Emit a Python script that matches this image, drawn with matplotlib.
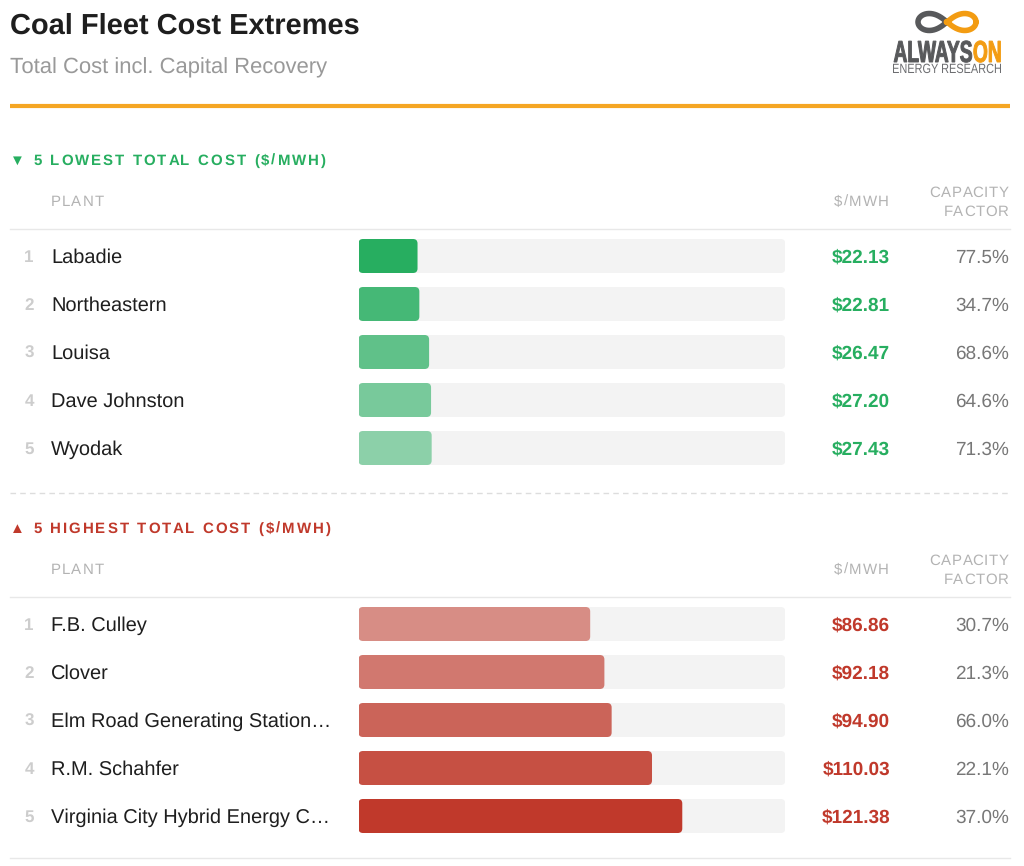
import matplotlib
matplotlib.use("Agg")
import matplotlib.pyplot as plt
import numpy as np
from matplotlib.patches import FancyBboxPatch, PathPatch
from matplotlib.textpath import TextPath
from matplotlib.font_manager import FontProperties
from matplotlib.transforms import Affine2D

# ---------------- data ----------------
low_plants = ["Labadie", "Northeastern", "Louisa", "Dave Johnston", "Wyodak"]
low_cost = [22.13, 22.81, 26.47, 27.20, 27.43]
low_cf = [77.5, 34.7, 68.6, 64.6, 71.3]

high_plants = ["F.B. Culley", "Clover", "Elm Road Generating Station\u2026",
               "R.M. Schahfer", "Virginia City Hybrid Energy C\u2026"]
high_cost = [86.86, 92.18, 94.90, 110.03, 121.38]
high_cf = [30.7, 21.3, 66.0, 22.1, 37.0]

scale_max = 160

title = "Coal Fleet Cost Extremes"
subtitle = "Total Cost incl. Capital Recovery"
low_header = "\u25BC 5 LOWEST TOTAL COST ($/MWH)"
high_header = "\u25B2 5 HIGHEST TOTAL COST ($/MWH)"

# ---------------- style ----------------
W, H = 1024, 866
FAM = ["Liberation Sans", "DejaVu Sans"]
plt.rcParams["font.family"] = FAM
plt.rcParams["text.hinting"] = "no_hinting"
plt.rcParams["text.hinting_factor"] = 1
GREEN = "#27ae60"
RED = "#c0392b"
ORANGE = "#f5a623"
TRACK = "#f3f3f3"
low_alpha = [1.0, 0.85, 0.72, 0.6, 0.5]
high_alpha = [0.55, 0.66, 0.77, 0.88, 1.0]

fig = plt.figure(figsize=(W / 100, H / 100), dpi=100)
ax = fig.add_axes([0, 0, 1, 1])
ax.set_xlim(0, W)
ax.set_ylim(H, 0)
ax.axis("off")

renderer = fig.canvas.get_renderer()


def text_width(s, **kw):
    t = ax.text(0, 0, s + "|", **kw)
    w1 = t.get_window_extent(renderer).width
    t.remove()
    t = ax.text(0, 0, "|", **kw)
    w2 = t.get_window_extent(renderer).width
    t.remove()
    return w1 - w2


def spaced(x, y, s, sp, ha="left", **kw):
    total = text_width(s, **kw) + sp * (len(s) - 1)
    x0 = x - total if ha == "right" else x
    for i, ch in enumerate(s):
        if ch == " ":
            continue
        off = text_width(s[:i], **kw) + sp * i if i > 0 else 0
        ax.text(x0 + off, y, ch, ha="left", va="baseline", **kw)


# ---------------- header ----------------
ax.text(10, 34, title, fontsize=21.1, fontweight="bold", color="#1e1e1e",
        ha="left", va="baseline")
ax.text(10, 73, subtitle, fontsize=16.05, color="#999999",
        ha="left", va="baseline")
ax.plot([10, 1010], [106, 106], color=ORANGE, lw=3.0, solid_capstyle="butt")


# logo
def logo_text(s, x0, x1, ybase, cap, color, weight, xoff=0.0, ref=None, ew=0.0):
    fp = FontProperties(family="Liberation Sans", weight=weight)
    ref = ref or s
    rp = TextPath((0, 0), ref, size=100, prop=fp)
    ext = rp.get_extents()
    sx = (x1 - x0) / ext.width
    sy = cap / ext.height
    tp = TextPath((xoff, 0), s, size=100, prop=fp)
    tr = Affine2D().translate(-ext.x0, 0).scale(sx, -sy).translate(x0, ybase)
    ax.add_patch(PathPatch(tr.transform_path(tp), facecolor=color,
                           edgecolor=color, lw=ew))


fpb = FontProperties(family="Liberation Sans", weight="bold")
adv = TextPath((0, 0), "ALWAYS", size=100, prop=fpb).get_extents().x1 + 6
logo_text("ALWAYS", 894, 1000, 62, 21.5, "#58595b", "bold", ref="ALWAYSON", ew=0.7)
logo_text("ON", 894, 1000, 62, 21.5, "#f39c12", "bold", xoff=adv,
          ref="ALWAYSON", ew=0.7)
logo_text("ENERGY RESEARCH", 893, 1001, 73, 9.5, "#6d6e71", "normal")

tt = np.linspace(0, 2 * np.pi, 400)
lx = 947 + 29 * np.cos(tt) / (1 + np.sin(tt) ** 2)
ly = 22 - 24 * np.sin(tt) * np.cos(tt) / (1 + np.sin(tt) ** 2)
left = np.cos(tt) <= 0.05
ax.plot(np.where(left, lx, np.nan), np.where(left, ly, np.nan),
        color="#58595b", lw=4.0, solid_capstyle="round")
right = np.cos(tt) >= -0.05
ax.plot(np.where(right, lx, np.nan), np.where(right, ly, np.nan),
        color="#f39c12", lw=4.0, solid_capstyle="round")


# ---------------- sections ----------------
def section(y_head, header, hcolor, plants, costs, cfs, color, alphas, bar_top):
    spaced(10, y_head + 5, header, 2.05, fontsize=11, fontweight="bold",
           color=hcolor)
    hk = dict(fontsize=11, color="#b3b3b3")
    spaced(51, y_head + 46, "PLANT", 1.0, **hk)
    spaced(889, y_head + 46, "$/MWH", 1.2, ha="right", **hk)
    spaced(1009, y_head + 37, "CAPACITY", 0.8, ha="right", **hk)
    spaced(1009, y_head + 56, "FACTOR", 0.8, ha="right", **hk)
    ax.plot([10, 1010], [y_head + 69, y_head + 69], color="#e8e8e8", lw=1.0)

    # bars on a real value axis
    axb = fig.add_axes([358.5 / W, 1 - (bar_top + 240) / H, 426.8 / W, 240 / H])
    axb.set_xlim(0, scale_max)
    axb.set_ylim(4.5, -0.5)
    axb.axis("off")
    y = np.arange(len(plants))
    hgt = 34 / 48
    tracks = axb.barh(y, [scale_max] * len(plants), height=hgt, color=TRACK)
    bars = axb.barh(y, costs, height=hgt, color=color)
    xpp = scale_max / 426.8
    ypp = 1 / 48
    r = 4.5 * xpp
    for group, alist in ((tracks, [1] * 5), (bars, alphas)):
        for p, a in zip(group.patches, alist):
            fb = FancyBboxPatch((p.get_x(), p.get_y()), p.get_width(),
                                p.get_height(),
                                boxstyle=f"round,pad=0,rounding_size={r}",
                                mutation_aspect=ypp / xpp,
                                facecolor=p.get_facecolor(), alpha=a, lw=0)
            p.remove()
            axb.add_patch(fb)

    for i, (nm, c, cf) in enumerate(zip(plants, costs, cfs)):
        yc = bar_top + 24 + 48 * i
        ax.text(29, yc + 6, str(i + 1), fontsize=12, fontweight="bold",
                color="#cdcdcd", ha="center", va="baseline")
        ax.text(51, yc + 7, nm, fontsize=14.6, color="#1e1e1e",
                ha="left", va="baseline")
        ax.text(890, yc + 6.5, f"${c:.2f}", fontsize=13.4, fontweight="bold",
                color=color, ha="right", va="baseline")
        ax.text(1009, yc + 6.5, f"{cf:.1f}%", fontsize=13.7, color="#777777",
                ha="right", va="baseline")


section(160, low_header, GREEN, low_plants, low_cost, low_cf, GREEN,
        low_alpha, 232)
ax.plot([10, 1010], [493, 493], color="#dddddd", lw=1.0, ls=(0, (4, 3)))
section(528, high_header, RED, high_plants, high_cost, high_cf, RED,
        high_alpha, 600)
ax.plot([10, 1010], [858, 858], color="#e8e8e8", lw=1.0)

fig.savefig("out.png", dpi=100, facecolor="white")
